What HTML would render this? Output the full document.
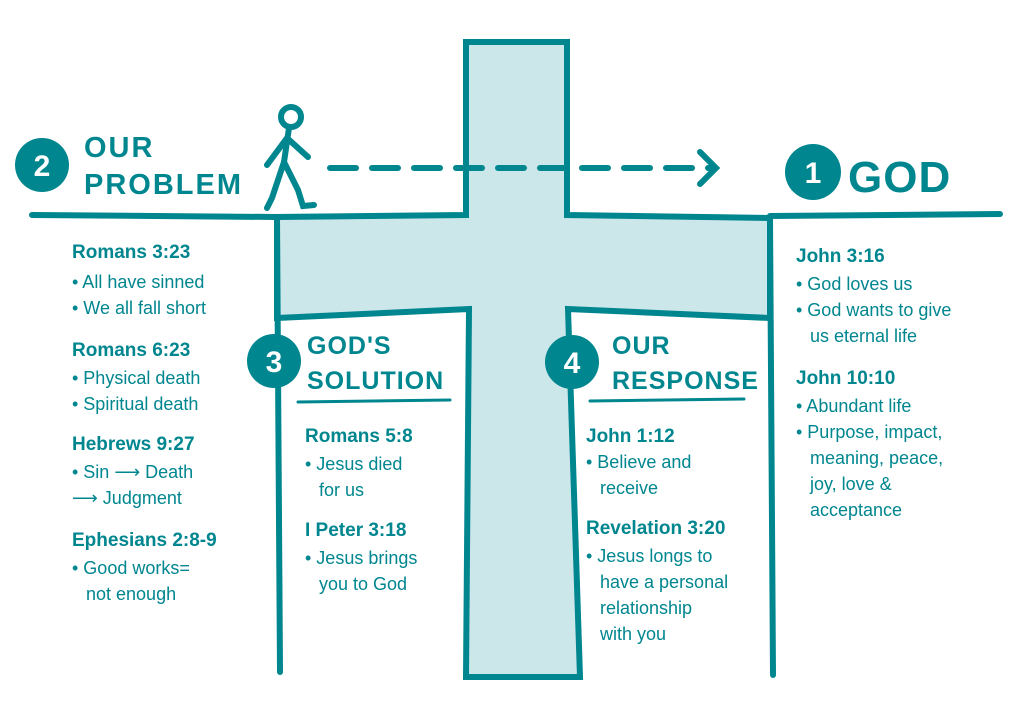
<!DOCTYPE html>
<html><head><meta charset="utf-8"><style>
html,body{margin:0;padding:0;background:#fff;}
svg{display:block}
text{font-family:"Liberation Sans",sans-serif;fill:#00868f;font-weight:bold;}
.h{font-size:19px}
.b{font-size:18px;font-weight:normal}
.t{font-size:25px;letter-spacing:1px}
.p{font-size:29px;letter-spacing:2px}
</style></head><body>
<svg width="1024" height="717" viewBox="0 0 1024 717" xmlns="http://www.w3.org/2000/svg">
<g stroke="#00868f" stroke-width="6" fill="#cce7ea" stroke-linejoin="miter">
<path d="M466 42 L567 42 L567 215 L770 218 L770 318 L568 309 L580 677 L466 677 L469 309 L277 318 L277 217 L466 215 Z"/>
</g>
<g stroke="#00868f" stroke-width="6" fill="none" stroke-linecap="round">
<line x1="32" y1="215" x2="277" y2="217"/>
<line x1="770" y1="216" x2="1000" y2="214"/>
<line x1="277" y1="217" x2="280" y2="672"/>
<line x1="770" y1="218" x2="773" y2="675"/>
<line x1="330" y1="168" x2="712" y2="168" stroke-dasharray="26 16"/>
<polyline points="700,152 716,168 700,184"/>
<circle cx="291" cy="117" r="10"/>
<polyline points="289,128 284,162 272,198 267,208"/>
<polyline points="284,162 298,190 303,206 314,205"/>
<polyline points="287,138 267,165"/>
<polyline points="287,138 308,157"/>
<line x1="298" y1="402" x2="450" y2="400" stroke-width="3"/>
<line x1="590" y1="401" x2="744" y2="399" stroke-width="3"/>
</g>
<g fill="#00868f">
<circle cx="42" cy="165" r="27"/>
<circle cx="813" cy="172" r="28"/>
<circle cx="274" cy="361" r="27"/>
<circle cx="572" cy="362" r="27"/>
</g>
<g style="font-size:30px" text-anchor="middle">
<text x="42" y="176" style="fill:#fff">2</text>
<text x="813" y="183" style="fill:#fff">1</text>
<text x="274" y="372" style="fill:#fff">3</text>
<text x="572" y="373" style="fill:#fff">4</text>
</g>
<text class="p" x="84" y="157">OUR</text>
<text class="p" x="84" y="194">PROBLEM</text>
<text class="t" x="848" y="192" style="font-size:44px">GOD</text>
<text class="t" x="307" y="354">GOD'S</text>
<text class="t" x="307" y="389">SOLUTION</text>
<text class="t" x="612" y="354">OUR</text>
<text class="t" x="612" y="389">RESPONSE</text>

<text class="h" x="72" y="258">Romans 3:23</text>
<text class="b" x="72" y="288">• All have sinned</text>
<text class="b" x="72" y="314">• We all fall short</text>
<text class="h" x="72" y="356">Romans 6:23</text>
<text class="b" x="72" y="384">• Physical death</text>
<text class="b" x="72" y="410">• Spiritual death</text>
<text class="h" x="72" y="450">Hebrews 9:27</text>
<text class="b" x="72" y="478">• Sin ⟶ Death</text>
<text class="b" x="72" y="504">⟶ Judgment</text>
<text class="h" x="72" y="546">Ephesians 2:8-9</text>
<text class="b" x="72" y="574">• Good works=</text>
<text class="b" x="86" y="600">not enough</text>

<text class="h" x="305" y="442">Romans 5:8</text>
<text class="b" x="305" y="470">• Jesus died</text>
<text class="b" x="319" y="496">for us</text>
<text class="h" x="305" y="536">I Peter 3:18</text>
<text class="b" x="305" y="564">• Jesus brings</text>
<text class="b" x="319" y="590">you to God</text>

<text class="h" x="586" y="442">John 1:12</text>
<text class="b" x="586" y="468">• Believe and</text>
<text class="b" x="600" y="494">receive</text>
<text class="h" x="586" y="534">Revelation 3:20</text>
<text class="b" x="586" y="562">• Jesus longs to</text>
<text class="b" x="600" y="588">have a personal</text>
<text class="b" x="600" y="614">relationship</text>
<text class="b" x="600" y="640">with you</text>

<text class="h" x="796" y="262">John 3:16</text>
<text class="b" x="796" y="290">• God loves us</text>
<text class="b" x="796" y="316">• God wants to give</text>
<text class="b" x="810" y="342">us eternal life</text>
<text class="h" x="796" y="384">John 10:10</text>
<text class="b" x="796" y="412">• Abundant life</text>
<text class="b" x="796" y="438">• Purpose, impact,</text>
<text class="b" x="810" y="464">meaning, peace,</text>
<text class="b" x="810" y="490">joy, love &amp;</text>
<text class="b" x="810" y="516">acceptance</text>
</svg>
</body></html>
